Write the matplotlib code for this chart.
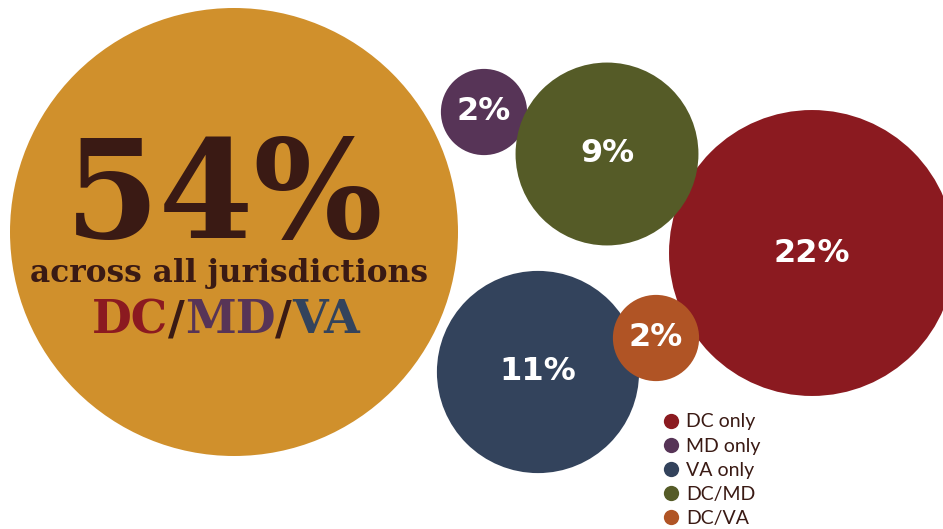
import numpy as np
import matplotlib
matplotlib.use("Agg")
import matplotlib.pyplot as plt
from matplotlib.patches import Circle
from matplotlib.lines import Line2D

# data
groups = ["All", "DC only", "MD only", "VA only", "DC/MD", "DC/VA"]
values = [54, 22, 2, 11, 9, 2]
colors = ["#D0902C", "#8B1A20", "#573457", "#33435C", "#555B27", "#B05425"]
# bubble centres (pixel layout)
cx = [234, 812, 484, 538, 607, 656]
cy = [232, 253, 112, 372, 154, 338]

legend_groups = ["DC only", "MD only", "VA only", "DC/MD", "DC/VA"]

dark = "#3A1A14"
scale = 224 / np.sqrt(54)   # radius per sqrt(percent)

fig = plt.figure(figsize=(9.43, 5.29), dpi=100)
ax = fig.add_axes([0, 0, 1, 1])
ax.set_xlim(0, 943)
ax.set_ylim(529, 0)
ax.set_aspect("equal")
ax.axis("off")

for g, v, c, x, y in zip(groups, values, colors, cx, cy):
    ax.add_patch(Circle((x, y), scale * np.sqrt(v), color=c, lw=0))
    if g != "All":
        ax.text(x, y, f"{v}%", color="white", fontsize=23, fontweight="bold",
                family="DejaVu Sans", ha="center", va="center")

# big label inside the main bubble
ax.text(224, 238, f"{values[0]}%", color=dark, fontsize=98, fontweight="bold",
        family="DejaVu Serif", ha="center", va="baseline")
ax.text(229, 282, "across all jurisdictions", color=dark, fontsize=22.5,
        fontweight="bold", family="DejaVu Serif", ha="center", va="baseline")

tfont = dict(fontsize=33, fontweight="bold", family="DejaVu Serif")
md = ax.text(230, 333, "MD", color=colors[2], ha="center", va="baseline", **tfont)
s1 = ax.annotate("/", xy=(0, 0), xycoords=md, ha="right", va="bottom",
                 color=dark, **tfont)
ax.annotate("DC", xy=(0, 0), xycoords=s1, ha="right", va="bottom",
            color=colors[1], **tfont)
s2 = ax.annotate("/", xy=(1, 0), xycoords=md, ha="left", va="bottom",
                 color=dark, **tfont)
ax.annotate("VA", xy=(1, 0), xycoords=s2, ha="left", va="bottom",
            color=colors[3], **tfont)

handles = [Line2D([], [], marker="o", ls="", ms=11, mec="none",
                  mfc=colors[groups.index(g)]) for g in legend_groups]
ax.legend(handles, legend_groups, loc="upper left", bbox_to_anchor=(0.7013, 0.2185),
          frameon=False, prop={"family": "Lato", "size": 14}, labelcolor=dark,
          handletextpad=0.27, labelspacing=0.37, handlelength=1.0,
          borderaxespad=0, borderpad=0)

plt.savefig("out.png", dpi=100)
